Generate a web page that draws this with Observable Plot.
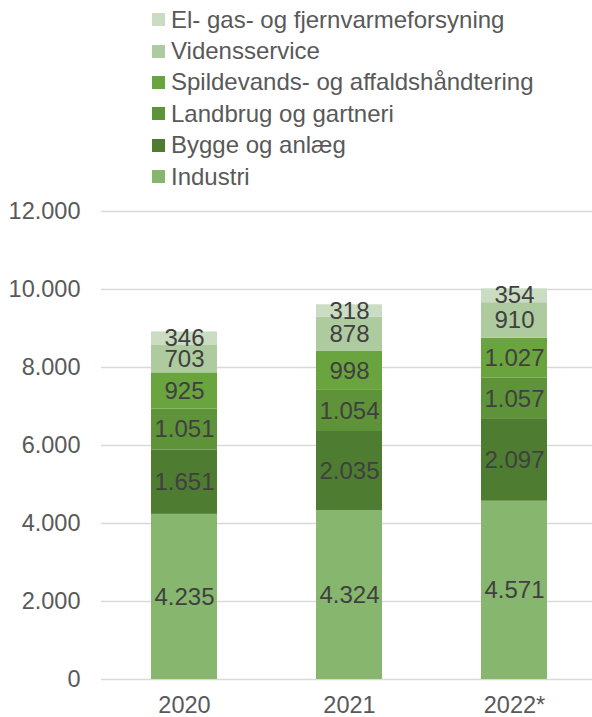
<!DOCTYPE html>
<html>
<head>
<meta charset="utf-8">
<script src="https://cdn.jsdelivr.net/npm/d3@7"></script>
<script src="https://cdn.jsdelivr.net/npm/@observablehq/plot@0.6"></script>
<style>
  html, body { margin: 0; padding: 0; background: #fff; }
  #wrap { position: relative; width: 592px; height: 717px; font-family: "Liberation Sans", Arial, sans-serif; }
  #legend { position: absolute; left: 152px; top: 4px; }
  .row { display: flex; align-items: center; height: 31.4px; font-size: 24px; color: #595959; white-space: nowrap; }
  .sw { width: 13px; height: 13px; margin-right: 6px; flex: none; }
  #chart { position: absolute; left: 0; top: 195px; }
</style>
</head>
<body>
<div id="wrap">
  <div id="legend"></div>
  <div id="chart"></div>
</div>
<script>
const years = ["2020", "2021", "2022*"];
const sectors = ["Industri", "Bygge og anlæg", "Landbrug og gartneri", "Spildevands- og affaldshåndtering", "Vidensservice", "El- gas- og fjernvarmeforsyning"];
const colors = ["#87b76e", "#4e7d32", "#5e933a", "#6aa43f", "#aecb9f", "#cadcc1"];
const industri = [4235, 4324, 4571];
const bygge = [1651, 2035, 2097];
const landbrug = [1051, 1054, 1057];
const spildevand = [925, 998, 1027];
const videns = [703, 878, 910];
const elgas = [346, 318, 354];
const yTicks = [0, 2000, 4000, 6000, 8000, 10000, 12000];

const series = [industri, bygge, landbrug, spildevand, videns, elgas];
const data = [];
series.forEach((vals, si) => {
  vals.forEach((v, yi) => data.push({year: years[yi], sector: sectors[si], value: v}));
});

const fmt = d3.formatLocale({decimal: ",", thousands: ".", grouping: [3], currency: ["", ""]}).format(",d");

const legend = document.getElementById("legend");
for (let i = sectors.length - 1; i >= 0; i--) {
  const row = document.createElement("div");
  row.className = "row";
  row.innerHTML = `<span class="sw" style="background:${colors[i]}"></span><span>${sectors[i]}</span>`;
  legend.appendChild(row);
}

const plot = Plot.plot({
  width: 592,
  height: 522,
  marginTop: 16,
  marginBottom: 38,
  marginLeft: 101,
  marginRight: 0,
  style: {fontFamily: "'Liberation Sans', Arial, sans-serif", fontSize: "24px", color: "#595959", background: "#fff"},
  x: {domain: years, range: [101, 596], padding: 0.6, paddingOuter: 0.3, label: null},
  y: {domain: [0, 12000], ticks: yTicks, label: null},
  color: {domain: sectors, range: colors},
  marks: [
    Plot.gridY(yTicks, {stroke: "#d9d9d9", strokeWidth: 1.5, strokeOpacity: 1}),
    Plot.axisY(yTicks, {tickSize: 0, tickPadding: 21, tickFormat: fmt, fontSize: 23.5, fill: "#595959", label: null}),
    Plot.axisX({tickSize: 0, tickPadding: 17, fontSize: 23.5, fill: "#595959", label: null}),
    Plot.barY(data, {x: "year", y: "value", fill: "sector", order: sectors}),
    Plot.text(data, Plot.stackY({x: "year", y: "value", z: "sector", order: sectors, text: d => fmt(d.value), fill: "#404040", fontSize: 24}))
  ]
});
document.getElementById("chart").appendChild(plot);
</script>
</body>
</html>
